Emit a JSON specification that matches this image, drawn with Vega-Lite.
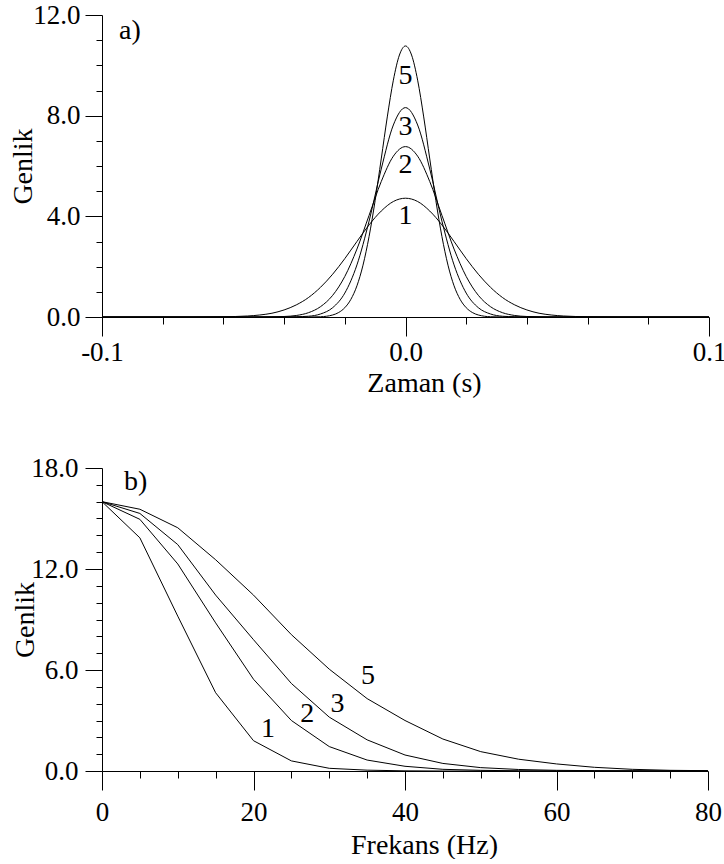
{
  "$schema": "https://vega.github.io/schema/vega-lite/v6.json",
  "padding": {"left": 9, "top": 1, "right": 0, "bottom": 0},
  "background": "white",
  "config": {
    "view": {"stroke": null},
    "font": "Liberation Serif",
    "axis": {
      "domainColor": "black", "tickColor": "black", "labelColor": "black", "titleColor": "black",
      "labelFont": "Liberation Serif", "titleFont": "Liberation Serif",
      "labelFontSize": 27, "titleFontSize": 28, "titleFontWeight": "normal",
      "grid": false, "domainWidth": 1, "tickWidth": 1, "labelOverlap": false, "labelFlush": false
    },
    "text": {"font": "Liberation Serif", "fontSize": 28, "color": "black"}
  },
  "datasets": {
    "time": [
      {"curve": "1", "t": -0.1, "amp": 0}, {"curve": "1", "t": -0.07, "amp": 0}, {"curve": "1", "t": -0.06, "amp": 0.01},
      {"curve": "1", "t": -0.056, "amp": 0.02}, {"curve": "1", "t": -0.052, "amp": 0.04}, {"curve": "1", "t": -0.048, "amp": 0.08},
      {"curve": "1", "t": -0.044, "amp": 0.15}, {"curve": "1", "t": -0.04, "amp": 0.28}, {"curve": "1", "t": -0.036, "amp": 0.48},
      {"curve": "1", "t": -0.032, "amp": 0.77}, {"curve": "1", "t": -0.028, "amp": 1.18}, {"curve": "1", "t": -0.024, "amp": 1.70},
      {"curve": "1", "t": -0.02, "amp": 2.32}, {"curve": "1", "t": -0.016, "amp": 3.0}, {"curve": "1", "t": -0.012, "amp": 3.66},
      {"curve": "1", "t": -0.008, "amp": 4.21}, {"curve": "1", "t": -0.004, "amp": 4.59}, {"curve": "1", "t": 0, "amp": 4.72},
      {"curve": "1", "t": 0.004, "amp": 4.59}, {"curve": "1", "t": 0.008, "amp": 4.21}, {"curve": "1", "t": 0.012, "amp": 3.66},
      {"curve": "1", "t": 0.016, "amp": 3.0}, {"curve": "1", "t": 0.02, "amp": 2.32}, {"curve": "1", "t": 0.024, "amp": 1.70},
      {"curve": "1", "t": 0.028, "amp": 1.18}, {"curve": "1", "t": 0.032, "amp": 0.77}, {"curve": "1", "t": 0.036, "amp": 0.48},
      {"curve": "1", "t": 0.04, "amp": 0.28}, {"curve": "1", "t": 0.044, "amp": 0.15}, {"curve": "1", "t": 0.048, "amp": 0.08},
      {"curve": "1", "t": 0.052, "amp": 0.04}, {"curve": "1", "t": 0.056, "amp": 0.02}, {"curve": "1", "t": 0.06, "amp": 0.01},
      {"curve": "1", "t": 0.07, "amp": 0}, {"curve": "1", "t": 0.1, "amp": 0},

      {"curve": "2", "t": -0.1, "amp": 0}, {"curve": "2", "t": -0.05, "amp": 0}, {"curve": "2", "t": -0.044, "amp": 0.01},
      {"curve": "2", "t": -0.04, "amp": 0.02}, {"curve": "2", "t": -0.036, "amp": 0.06}, {"curve": "2", "t": -0.032, "amp": 0.17},
      {"curve": "2", "t": -0.028, "amp": 0.41}, {"curve": "2", "t": -0.024, "amp": 0.86}, {"curve": "2", "t": -0.02, "amp": 1.61},
      {"curve": "2", "t": -0.016, "amp": 2.70}, {"curve": "2", "t": -0.012, "amp": 4.04}, {"curve": "2", "t": -0.008, "amp": 5.38},
      {"curve": "2", "t": -0.004, "amp": 6.39}, {"curve": "2", "t": 0, "amp": 6.77}, {"curve": "2", "t": 0.004, "amp": 6.39},
      {"curve": "2", "t": 0.008, "amp": 5.38}, {"curve": "2", "t": 0.012, "amp": 4.04}, {"curve": "2", "t": 0.016, "amp": 2.70},
      {"curve": "2", "t": 0.02, "amp": 1.61}, {"curve": "2", "t": 0.024, "amp": 0.86}, {"curve": "2", "t": 0.028, "amp": 0.41},
      {"curve": "2", "t": 0.032, "amp": 0.17}, {"curve": "2", "t": 0.036, "amp": 0.06}, {"curve": "2", "t": 0.04, "amp": 0.02},
      {"curve": "2", "t": 0.044, "amp": 0.01}, {"curve": "2", "t": 0.05, "amp": 0}, {"curve": "2", "t": 0.1, "amp": 0},

      {"curve": "3", "t": -0.1, "amp": 0}, {"curve": "3", "t": -0.04, "amp": 0}, {"curve": "3", "t": -0.036, "amp": 0.01},
      {"curve": "3", "t": -0.032, "amp": 0.03}, {"curve": "3", "t": -0.028, "amp": 0.12}, {"curve": "3", "t": -0.024, "amp": 0.37},
      {"curve": "3", "t": -0.02, "amp": 0.95}, {"curve": "3", "t": -0.016, "amp": 2.07}, {"curve": "3", "t": -0.012, "amp": 3.81},
      {"curve": "3", "t": -0.008, "amp": 5.88}, {"curve": "3", "t": -0.004, "amp": 7.63}, {"curve": "3", "t": 0, "amp": 8.32},
      {"curve": "3", "t": 0.004, "amp": 7.63}, {"curve": "3", "t": 0.008, "amp": 5.88}, {"curve": "3", "t": 0.012, "amp": 3.81},
      {"curve": "3", "t": 0.016, "amp": 2.07}, {"curve": "3", "t": 0.02, "amp": 0.95}, {"curve": "3", "t": 0.024, "amp": 0.37},
      {"curve": "3", "t": 0.028, "amp": 0.12}, {"curve": "3", "t": 0.032, "amp": 0.03}, {"curve": "3", "t": 0.036, "amp": 0.01},
      {"curve": "3", "t": 0.04, "amp": 0}, {"curve": "3", "t": 0.1, "amp": 0},

      {"curve": "5", "t": -0.1, "amp": 0}, {"curve": "5", "t": -0.032, "amp": 0}, {"curve": "5", "t": -0.028, "amp": 0.01},
      {"curve": "5", "t": -0.024, "amp": 0.08}, {"curve": "5", "t": -0.022, "amp": 0.18}, {"curve": "5", "t": -0.02, "amp": 0.37},
      {"curve": "5", "t": -0.018, "amp": 0.70}, {"curve": "5", "t": -0.016, "amp": 1.24}, {"curve": "5", "t": -0.014, "amp": 2.06},
      {"curve": "5", "t": -0.012, "amp": 3.20}, {"curve": "5", "t": -0.01, "amp": 4.63}, {"curve": "5", "t": -0.008, "amp": 6.28},
      {"curve": "5", "t": -0.006, "amp": 7.95}, {"curve": "5", "t": -0.004, "amp": 9.41}, {"curve": "5", "t": -0.002, "amp": 10.41},
      {"curve": "5", "t": 0, "amp": 10.77}, {"curve": "5", "t": 0.002, "amp": 10.41}, {"curve": "5", "t": 0.004, "amp": 9.41},
      {"curve": "5", "t": 0.006, "amp": 7.95}, {"curve": "5", "t": 0.008, "amp": 6.28}, {"curve": "5", "t": 0.01, "amp": 4.63},
      {"curve": "5", "t": 0.012, "amp": 3.20}, {"curve": "5", "t": 0.014, "amp": 2.06}, {"curve": "5", "t": 0.016, "amp": 1.24},
      {"curve": "5", "t": 0.018, "amp": 0.70}, {"curve": "5", "t": 0.02, "amp": 0.37}, {"curve": "5", "t": 0.022, "amp": 0.18},
      {"curve": "5", "t": 0.024, "amp": 0.08}, {"curve": "5", "t": 0.028, "amp": 0.01}, {"curve": "5", "t": 0.032, "amp": 0},
      {"curve": "5", "t": 0.1, "amp": 0}
    ],
    "freq": [
      {"curve": "1", "f": 0, "amp": 16}, {"curve": "1", "f": 5, "amp": 13.85}, {"curve": "1", "f": 10, "amp": 9.2},
      {"curve": "1", "f": 15, "amp": 4.65}, {"curve": "1", "f": 20, "amp": 1.8}, {"curve": "1", "f": 25, "amp": 0.6},
      {"curve": "1", "f": 30, "amp": 0.16}, {"curve": "1", "f": 35, "amp": 0.05}, {"curve": "1", "f": 40, "amp": 0.01},
      {"curve": "1", "f": 45, "amp": 0}, {"curve": "1", "f": 50, "amp": 0}, {"curve": "1", "f": 55, "amp": 0},
      {"curve": "1", "f": 60, "amp": 0}, {"curve": "1", "f": 65, "amp": 0}, {"curve": "1", "f": 70, "amp": 0},
      {"curve": "1", "f": 75, "amp": 0}, {"curve": "1", "f": 80, "amp": 0},

      {"curve": "2", "f": 0, "amp": 16}, {"curve": "2", "f": 5, "amp": 14.95}, {"curve": "2", "f": 10, "amp": 12.3},
      {"curve": "2", "f": 15, "amp": 8.8}, {"curve": "2", "f": 20, "amp": 5.45}, {"curve": "2", "f": 25, "amp": 3.0},
      {"curve": "2", "f": 30, "amp": 1.45}, {"curve": "2", "f": 35, "amp": 0.65}, {"curve": "2", "f": 40, "amp": 0.28},
      {"curve": "2", "f": 45, "amp": 0.1}, {"curve": "2", "f": 50, "amp": 0.04}, {"curve": "2", "f": 55, "amp": 0.01},
      {"curve": "2", "f": 60, "amp": 0}, {"curve": "2", "f": 65, "amp": 0}, {"curve": "2", "f": 70, "amp": 0},
      {"curve": "2", "f": 75, "amp": 0}, {"curve": "2", "f": 80, "amp": 0},

      {"curve": "3", "f": 0, "amp": 16}, {"curve": "3", "f": 5, "amp": 15.3}, {"curve": "3", "f": 10, "amp": 13.45},
      {"curve": "3", "f": 15, "amp": 10.45}, {"curve": "3", "f": 20, "amp": 7.8}, {"curve": "3", "f": 25, "amp": 5.2},
      {"curve": "3", "f": 30, "amp": 3.2}, {"curve": "3", "f": 35, "amp": 1.85}, {"curve": "3", "f": 40, "amp": 0.95},
      {"curve": "3", "f": 45, "amp": 0.45}, {"curve": "3", "f": 50, "amp": 0.2}, {"curve": "3", "f": 55, "amp": 0.09},
      {"curve": "3", "f": 60, "amp": 0.04}, {"curve": "3", "f": 65, "amp": 0.02}, {"curve": "3", "f": 70, "amp": 0.01},
      {"curve": "3", "f": 75, "amp": 0}, {"curve": "3", "f": 80, "amp": 0},

      {"curve": "5", "f": 0, "amp": 16}, {"curve": "5", "f": 5, "amp": 15.55}, {"curve": "5", "f": 10, "amp": 14.45},
      {"curve": "5", "f": 15, "amp": 12.55}, {"curve": "5", "f": 20, "amp": 10.45}, {"curve": "5", "f": 25, "amp": 8.1},
      {"curve": "5", "f": 30, "amp": 6.05}, {"curve": "5", "f": 35, "amp": 4.3}, {"curve": "5", "f": 40, "amp": 3.0},
      {"curve": "5", "f": 45, "amp": 1.9}, {"curve": "5", "f": 50, "amp": 1.15}, {"curve": "5", "f": 55, "amp": 0.7},
      {"curve": "5", "f": 60, "amp": 0.42}, {"curve": "5", "f": 65, "amp": 0.22}, {"curve": "5", "f": 70, "amp": 0.1},
      {"curve": "5", "f": 75, "amp": 0.04}, {"curve": "5", "f": 80, "amp": 0.02}
    ],
    "tlabels": [
      {"label": "5", "t": 0, "amp": 9.58},
      {"label": "3", "t": 0, "amp": 7.54},
      {"label": "2", "t": 0, "amp": 6.02},
      {"label": "1", "t": 0, "amp": 4.0}
    ],
    "tpanel": [{"label": "a)", "t": -0.0944, "amp": 11.37}],
    "flabels": [
      {"label": "1", "f": 21.9, "amp": 2.5},
      {"label": "2", "f": 27.1, "amp": 3.4},
      {"label": "3", "f": 31.1, "amp": 3.98},
      {"label": "5", "f": 35.1, "amp": 5.67}
    ],
    "fpanel": [{"label": "b)", "f": 2.9, "amp": 17.17}]
  },
  "spacing": 57,
  "vconcat": [
    {
      "width": 607,
      "height": 302,
      "layer": [
        {
          "data": {"name": "time"},
          "mark": {"type": "line", "interpolate": "monotone", "color": "black", "strokeWidth": 1},
          "encoding": {
            "x": {"field": "t", "type": "quantitative", "scale": {"domain": [-0.1, 0.1], "nice": false, "zero": false},
              "axis": {"orient": "bottom", "values": [-0.1, 0, 0.1],
                "labelExpr": "datum.value < 0 ? '-' + format(-datum.value, '.1f') : format(datum.value, '.1f')",
                "tickSize": 19, "labelPadding": 3, "title": "Zaman (s)",
                "titleX": 322, "titleY": 74, "titleBaseline": "alphabetic", "titleAlign": "center", "titleAnchor": null}},
            "y": {"field": "amp", "type": "quantitative", "scale": {"domain": [0, 12], "nice": false},
              "axis": {"orient": "left", "values": [0, 4, 8, 12], "format": ".1f", "tickSize": 17, "labelPadding": 5,
                "title": "Genlik", "titleX": -71, "titleY": 151, "titleAngle": 270, "titleBaseline": "alphabetic", "titleAlign": "center"}},
            "detail": {"field": "curve", "type": "nominal"}
          }
        },
        {
          "data": {"name": "tlabels"},
          "mark": {"type": "text", "align": "center", "baseline": "middle"},
          "encoding": {
            "x": {"field": "t", "type": "quantitative", "axis": null},
            "y": {"field": "amp", "type": "quantitative", "axis": null},
            "text": {"field": "label", "type": "nominal"}
          }
        },
        {
          "data": {"name": "tpanel"},
          "mark": {"type": "text", "align": "left", "baseline": "middle"},
          "encoding": {
            "x": {"field": "t", "type": "quantitative",
              "axis": {"orient": "bottom", "values": [-0.08, -0.06, -0.04, -0.02, 0.02, 0.04, 0.06, 0.08], "tickSize": 7,
                "labels": false, "domain": false, "title": null}},
            "y": {"field": "amp", "type": "quantitative",
              "axis": {"orient": "left", "values": [1, 2, 3, 5, 6, 7, 9, 10, 11], "tickSize": 6,
                "labels": false, "domain": false, "title": null}},
            "text": {"field": "label", "type": "nominal"}
          }
        }
      ],
      "resolve": {"axis": {"x": "independent", "y": "independent"}}
    },
    {
      "width": 606,
      "height": 303,
      "layer": [
        {
          "data": {"name": "freq"},
          "mark": {"type": "line", "color": "black", "strokeWidth": 1},
          "encoding": {
            "x": {"field": "f", "type": "quantitative", "scale": {"domain": [0, 80], "nice": false},
              "axis": {"orient": "bottom", "values": [0, 20, 40, 60, 80], "format": "d",
                "tickSize": 19, "labelPadding": 9, "title": "Frekans (Hz)",
                "titleX": 322, "titleY": 82, "titleBaseline": "alphabetic", "titleAlign": "center"}},
            "y": {"field": "amp", "type": "quantitative", "scale": {"domain": [0, 18], "nice": false},
              "axis": {"orient": "left", "values": [0, 6, 12, 18], "format": ".1f", "tickSize": 17, "labelPadding": 7,
                "title": "Genlik", "titleX": -69, "titleY": 151.5, "titleAngle": 270, "titleBaseline": "alphabetic", "titleAlign": "center"}},
            "detail": {"field": "curve", "type": "nominal"}
          }
        },
        {
          "data": {"name": "flabels"},
          "mark": {"type": "text", "align": "center", "baseline": "middle"},
          "encoding": {
            "x": {"field": "f", "type": "quantitative", "axis": null},
            "y": {"field": "amp", "type": "quantitative", "axis": null},
            "text": {"field": "label", "type": "nominal"}
          }
        },
        {
          "data": {"name": "fpanel"},
          "mark": {"type": "text", "align": "left", "baseline": "middle"},
          "encoding": {
            "x": {"field": "f", "type": "quantitative",
              "axis": {"orient": "bottom", "values": [5, 10, 15, 25, 30, 35, 45, 50, 55, 65, 70, 75], "tickSize": 7,
                "labels": false, "domain": false, "title": null}},
            "y": {"field": "amp", "type": "quantitative",
              "axis": {"orient": "left", "values": [1, 2, 3, 4, 5, 7, 8, 9, 10, 11, 13, 14, 15, 16, 17], "tickSize": 6,
                "labels": false, "domain": false, "title": null}},
            "text": {"field": "label", "type": "nominal"}
          }
        }
      ],
      "resolve": {"axis": {"x": "independent", "y": "independent"}}
    }
  ]
}
